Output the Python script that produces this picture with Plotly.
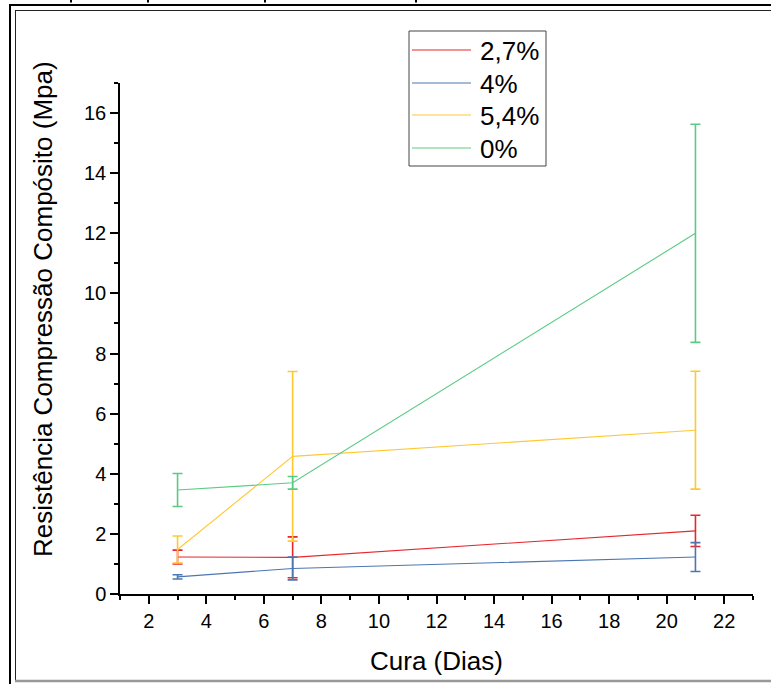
import plotly.graph_objects as go

# ---- data ----
days = [3, 7, 21]
series_names = ["2,7%", "4%", "5,4%", "0%"]
vals_27 = [1.23, 1.22, 2.10]
err_27 = [0.23, 0.68, 0.52]
vals_4 = [0.57, 0.85, 1.23]
err_4 = [0.07, 0.38, 0.48]
vals_54 = [1.48, 4.58, 5.45]
err_54 = [0.45, 2.82, 1.96]
vals_0 = [3.46, 3.70, 12.00]
err_0 = [0.55, 0.21, 3.63]
colors = ["#E8262D", "#4C76B2", "#FFC832", "#5ACB82"]

x_ticks = list(range(2, 23, 2))
y_ticks = list(range(0, 17, 2))

FONT = "Liberation Sans, Arial, sans-serif"
W, H = 771, 684
L, R, T, B = 120, 18, 83, 90
PW, PH = W - L - R, H - T - B


def px(x):
    return (x - L) / PW


def py(y):
    return (H - B - y) / PH


fig = go.Figure()
all_vals = [vals_27, vals_4, vals_54, vals_0]
all_errs = [err_27, err_4, err_54, err_0]
for name, v, e, c in zip(series_names, all_vals, all_errs, colors):
    fig.add_trace(go.Scatter(
        x=days, y=v, name=name, mode="lines",
        line=dict(color=c, width=1.1),
        error_y=dict(type="data", array=e, visible=True, color=c,
                     thickness=1.6, width=5),
        showlegend=False,
    ))

fig.update_layout(
    width=W, height=H, autosize=False,
    margin=dict(l=L, r=R, t=T, b=B),
    paper_bgcolor="white", plot_bgcolor="white",
    font=dict(family=FONT, color="black"),
    xaxis=dict(range=[1, 23], tickvals=x_ticks, showgrid=False, zeroline=False,
               showline=True, linecolor="black", linewidth=1.5,
               ticks="outside", ticklen=8, tickwidth=1.5, tickcolor="black",
               tickfont=dict(size=20, family=FONT),
               minor=dict(dtick=1, tick0=1, ticks="outside", ticklen=4,
                          tickwidth=1.5, tickcolor="black", showgrid=False)),
    yaxis=dict(range=[0, 17], tickvals=y_ticks, showgrid=False, zeroline=False,
               showline=True, linecolor="black", linewidth=1.5,
               ticks="outside", ticklen=8, tickwidth=1.5, tickcolor="black",
               tickfont=dict(size=20, family=FONT),
               minor=dict(dtick=1, tick0=1, ticks="outside", ticklen=4,
                          tickwidth=1.5, tickcolor="black", showgrid=False)),
)

# axis titles
fig.add_annotation(text="Cura (Dias)", xref="paper", yref="paper",
                   x=px(436), y=py(661), xanchor="center", yanchor="middle",
                   showarrow=False, font=dict(size=26, family=FONT))
fig.add_annotation(text="Resistência Compressão Compósito (Mpa)", xref="paper",
                   yref="paper", x=px(43), y=py(309), xanchor="center",
                   yanchor="middle", textangle=-90, showarrow=False,
                   font=dict(size=26, family=FONT))

shapes = []
# legend box
shapes.append(dict(type="rect", xref="paper", yref="paper",
                   x0=px(409), x1=px(546), y0=py(31), y1=py(166),
                   line=dict(color="#444", width=1), fillcolor="white", layer="above"))
leg_y = [50, 83, 115, 148]
for name, c, ly in zip(series_names, colors, leg_y):
    shapes.append(dict(type="line", xref="paper", yref="paper",
                       x0=px(412), x1=px(471), y0=py(ly), y1=py(ly),
                       line=dict(color=c, width=1.2), layer="above"))
    fig.add_annotation(text=name, xref="paper", yref="paper", x=px(478), y=py(ly + 1),
                       xanchor="left", yanchor="middle", showarrow=False,
                       font=dict(size=26, family=FONT))

# document frame lines
shapes.append(dict(type="line", xref="paper", yref="paper", x0=px(10), x1=px(771),
                   y0=py(5), y1=py(5), line=dict(color="black", width=2)))
shapes.append(dict(type="line", xref="paper", yref="paper", x0=px(15), x1=px(771),
                   y0=py(10.5), y1=py(10.5), line=dict(color="#222", width=1)))
shapes.append(dict(type="line", xref="paper", yref="paper", x0=px(10), x1=px(10),
                   y0=py(4), y1=py(684), line=dict(color="black", width=2)))
shapes.append(dict(type="line", xref="paper", yref="paper", x0=px(15.5), x1=px(15.5),
                   y0=py(10), y1=py(682), line=dict(color="#222", width=1)))
shapes.append(dict(type="line", xref="paper", yref="paper", x0=px(15), x1=px(771),
                   y0=py(681), y1=py(681), line=dict(color="#999", width=2.5)))
# cut-off text remnants at very top
for mx in [71, 148, 265, 416]:
    shapes.append(dict(type="line", xref="paper", yref="paper", x0=px(mx), x1=px(mx),
                       y0=py(0), y1=py(2.5), line=dict(color="black", width=2)))

fig.update_layout(shapes=shapes)
fig.write_html("out.html")
